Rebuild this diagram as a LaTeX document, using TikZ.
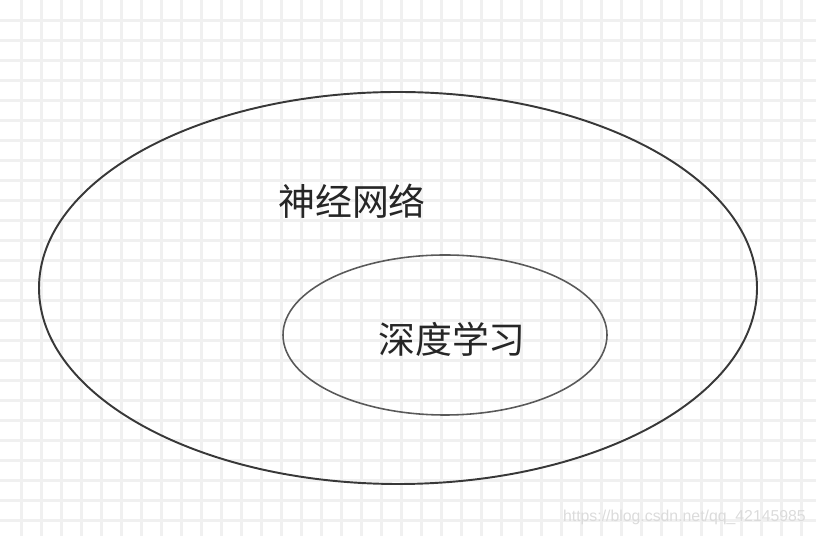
\documentclass[tikz,border=0pt]{standalone}
\usepackage{fontspec}
\setmainfont{Liberation Sans}
\newfontfamily\cjk{Noto Sans CJK SC}
\usetikzlibrary{positioning}

\begin{document}
\begin{tikzpicture}[
    gridline/.style={line width=0.06cm, black!6},
    setline/.style={line width=1.1pt, black!78},
    setlabel/.style={font=\cjk\fontsize{21}{25}\selectfont, black!85},
    watermark/.style={font=\fontsize{9}{10}\selectfont, black!14}
  ]

    \useasboundingbox (0,0) rectangle (16.32,10.72);
    \clip (0,0) rectangle (16.32,10.72);

    % Grid
    \foreach \x in {0,...,39} {
        \draw[gridline] (0.43+0.4*\x,0) -- ++(0,10.72);
        };
    \foreach \y in {0,...,25} {
        \draw[gridline] (0,10.30-0.4*\y) -- ++(16.32,0);
        };

    % Outer set
    \draw[setline] (7.96,4.96) ellipse [x radius=7.18cm, y radius=3.92cm];
    \node[setlabel] (nn) at (7.04,6.70) {神经网络};

    % Inner set
    \draw[setline, line width=0.9pt, black!65] (8.90,4.02) ellipse [x radius=3.24cm, y radius=1.60cm];
    \node[setlabel] (dl) at (9.04,3.94) {深度学习};

    \node[watermark, anchor=base east] (url) at (16.24,0.28) {https://blog.csdn.net/qq\_42145985};
\end{tikzpicture}
\end{document}
